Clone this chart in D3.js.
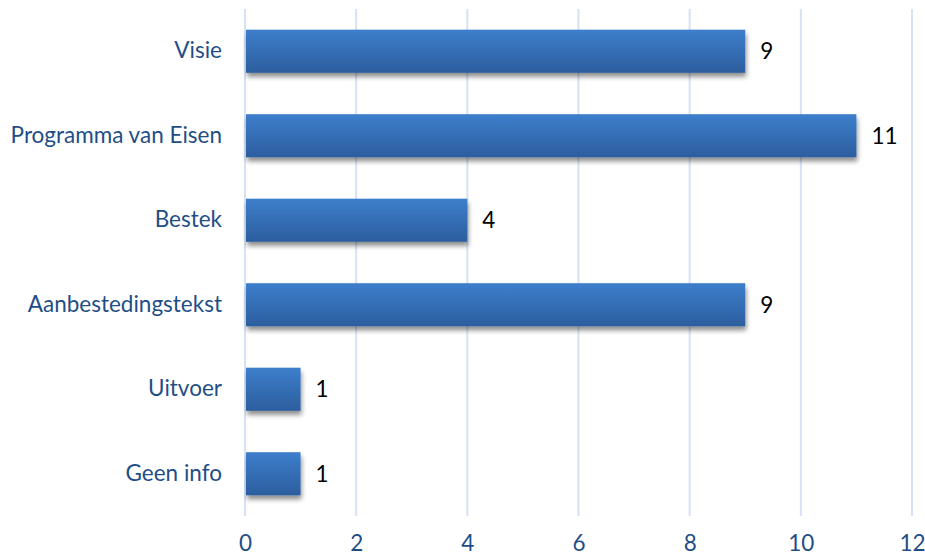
<!DOCTYPE html>
<html>
<head>
<meta charset="utf-8">
<script src="https://cdn.jsdelivr.net/npm/d3@7"></script>
<style>
  html, body { margin: 0; padding: 0; background: #fff; }
  svg { display: block; font-family: Lato, "Open Sans", sans-serif; }
</style>
</head>
<body>
<svg id="chart" width="925" height="557"></svg>
<script>
// Categories, top to bottom, and their counts
const categories = ["Visie", "Programma van Eisen", "Bestek", "Aanbestedingstekst", "Uitvoer", "Geen info"];
const counts = [9, 11, 4, 9, 1, 1];
const xTicks = [0, 2, 4, 6, 8, 10, 12];

const svg = d3.select("#chart");
const margin = { top: 9, right: 13, bottom: 41, left: 245 };
const W = 925, H = 557;
const fontSize = 22.5;

const x = d3.scaleLinear().domain([0, 12]).range([margin.left, W - margin.right]);
const y = d3.scaleBand().domain(categories).range([margin.top, H - margin.bottom]).paddingInner(0.49).paddingOuter(0.245);

const defs = svg.append("defs");
const grad = defs.append("linearGradient").attr("id", "barGrad").attr("x1", 0).attr("y1", 0).attr("x2", 0).attr("y2", 1);
grad.append("stop").attr("offset", "0%").attr("stop-color", "#3D7ECC");
grad.append("stop").attr("offset", "100%").attr("stop-color", "#2C5E9E");

const shadow = defs.append("filter").attr("id", "barShadow").attr("x", "-5%").attr("y", "-20%").attr("width", "115%").attr("height", "160%");
shadow.append("feGaussianBlur").attr("in", "SourceAlpha").attr("stdDeviation", 2.5);
shadow.append("feOffset").attr("dx", 1).attr("dy", 4).attr("result", "off");
shadow.append("feComponentTransfer").append("feFuncA").attr("type", "linear").attr("slope", 0.45);
const merge = shadow.append("feMerge");
merge.append("feMergeNode");
merge.append("feMergeNode").attr("in", "SourceGraphic");

// Vertical gridlines
svg.append("g").selectAll("line").data(xTicks).join("line")
  .attr("x1", d => x(d)).attr("x2", d => x(d))
  .attr("y1", margin.top).attr("y2", H - margin.bottom)
  .attr("stroke", "#D5E2F4").attr("stroke-width", 2);

// Bars
svg.append("g").selectAll("rect").data(categories).join("rect")
  .attr("x", x(0) + 1)
  .attr("y", d => y(d))
  .attr("width", (d, i) => x(counts[i]) - x(0) - 1)
  .attr("height", y.bandwidth())
  .attr("fill", "url(#barGrad)")
  .attr("filter", "url(#barShadow)");

// Value labels
svg.append("g").selectAll("text").data(categories).join("text")
  .attr("x", (d, i) => x(counts[i]) + 15)
  .attr("y", d => y(d) + y.bandwidth() / 2)
  .attr("dy", "0.35em")
  .attr("font-size", fontSize)
  .attr("fill", "#000")
  .text((d, i) => counts[i]);

// Category axis
const yAxis = d3.axisLeft(y).tickSize(0).tickPadding(23);
const gy = svg.append("g").attr("transform", `translate(${margin.left},0)`).call(yAxis);
gy.select(".domain").remove();
gy.selectAll("text").attr("font-size", fontSize).attr("fill", "#1F4E86").attr("font-family", "Lato, 'Open Sans', sans-serif");

// Value axis
const xAxis = d3.axisBottom(x).tickValues(xTicks).tickSize(0).tickPadding(19);
const gx = svg.append("g").attr("transform", `translate(0,${H - margin.bottom})`).call(xAxis);
gx.select(".domain").remove();
gx.selectAll("text").attr("font-size", fontSize).attr("fill", "#1F4E86").attr("font-family", "Lato, 'Open Sans', sans-serif");
</script>
</body>
</html>
